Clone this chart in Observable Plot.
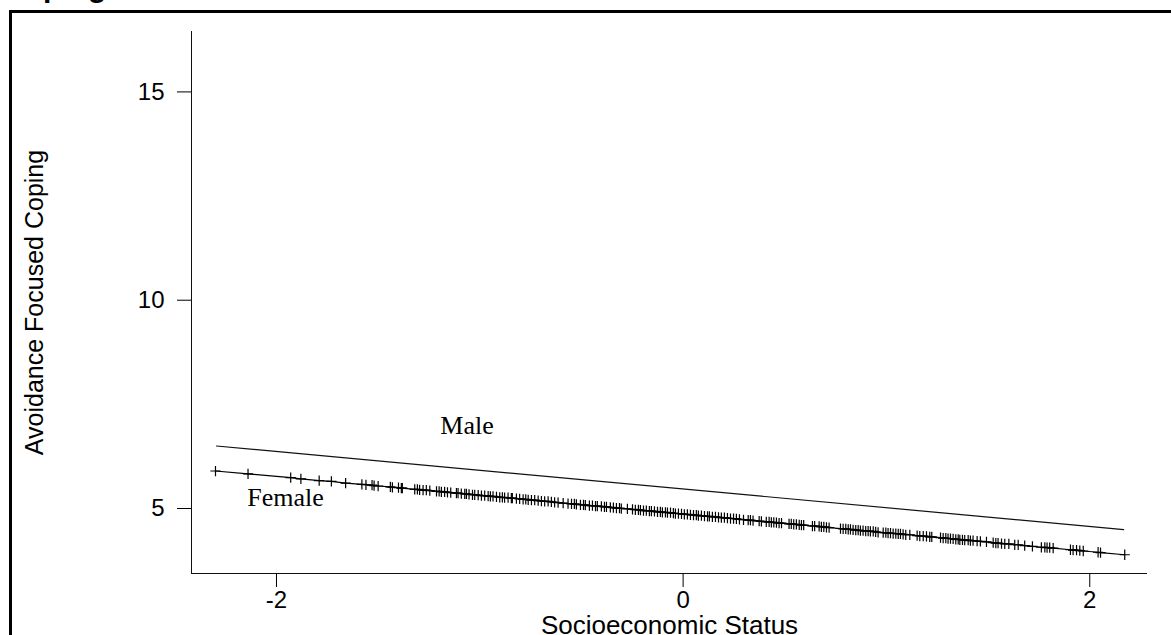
<!DOCTYPE html>
<html>
<head>
<meta charset="utf-8">
<script src="https://cdn.jsdelivr.net/npm/d3@7"></script>
<script src="https://cdn.jsdelivr.net/npm/@observablehq/plot@0.6"></script>
<style>
  html, body { margin: 0; padding: 0; background: #fff; overflow: hidden; }
  #wrap { position: relative; width: 1171px; height: 635px; overflow: hidden; }
  #frame { position: absolute; left: 9px; top: 10px; width: 1300px; height: 800px;
           border-left: 3px solid #000; border-top: 3px solid #000; box-sizing: border-box; }
  #title { position: absolute; left: 3px; top: -28px; font: bold 30px "Liberation Sans", Arial, sans-serif;
           line-height: 30px; color: #000; white-space: nowrap; }
  #chart { position: absolute; left: 0; top: 0; }
</style>
</head>
<body>
<div id="wrap">
  <div id="title"></div>
  <div id="frame"></div>
  <div id="chart"></div>
</div>
<script>
const titleText = "Coping";
const xLabel = "Socioeconomic Status";
const yLabel = "Avoidance Focused Coping";
const xTicks = [-2, 0, 2];
const xTickLabels = ["-2", "0", "2"];
const yTicks = [5, 10, 15];
const xDomain = [-2.418, 2.284];
const yDomain = [3.44, 16.45];

const maleSES = [-2.295, 2.167];
const maleAFC = [6.50, 4.495];

const femaleSES = [
  -2.30, -2.14, -1.93, -1.88, -1.79, -1.73, -1.66, -1.58, -1.56, -1.53, -1.52, -1.50, -1.44, -1.43, -1.40,
  -1.386, -1.381, -1.320, -1.307, -1.296, -1.279, -1.263, -1.246, -1.213, -1.200, -1.189, -1.173, -1.159,
  -1.143, -1.115, -1.107, -1.091, -1.074, -1.066, -1.053, -1.036, -1.025, -1.008, -0.992, -0.976, -0.959,
  -0.948, -0.935, -0.918, -0.902, -0.889, -0.878, -0.861, -0.845, -0.840, -0.820, -0.804, -0.787, -0.774,
  -0.762, -0.746, -0.730, -0.713, -0.697, -0.681, -0.664, -0.648, -0.632, -0.615, -0.590, -0.566,
  -0.549, -0.535, -0.525, -0.505, -0.490, -0.481, -0.461, -0.446, -0.431, -0.422, -0.402, -0.387, -0.377,
  -0.358, -0.343, -0.328, -0.313, -0.304, -0.274, -0.249, -0.235, -0.220, -0.210, -0.195, -0.181, -0.166,
  -0.156, -0.141, -0.126, -0.112, -0.102, -0.087, -0.077, -0.062, -0.048, -0.038, -0.023, -0.008,
  0.006, 0.021, 0.036, 0.051, 0.065, 0.075, 0.090, 0.105, 0.120, 0.129, 0.144, 0.159, 0.174, 0.188,
  0.203, 0.218, 0.233, 0.248, 0.262, 0.277, 0.297,
  0.320, 0.331, 0.344, 0.374, 0.385, 0.409, 0.423, 0.434, 0.446, 0.459, 0.472, 0.484, 0.521, 0.532,
  0.544, 0.557, 0.571, 0.582, 0.593, 0.636, 0.647, 0.669, 0.680, 0.692, 0.705, 0.718, 0.774, 0.787,
  0.800, 0.812, 0.823, 0.836, 0.849, 0.861, 0.872, 0.885, 0.898, 0.910, 0.921, 0.935, 0.947, 0.959,
  0.984, 0.997, 1.008, 1.020, 1.033, 1.046, 1.058, 1.069, 1.082, 1.095, 1.115, 1.151, 1.164, 1.181,
  1.197, 1.213,
  1.223, 1.266, 1.279, 1.292, 1.303, 1.315, 1.328, 1.341, 1.353, 1.361, 1.374, 1.385, 1.402, 1.413,
  1.426, 1.446, 1.462, 1.492, 1.525, 1.538, 1.549, 1.566, 1.582, 1.602, 1.631, 1.648, 1.680, 1.718,
  1.762, 1.779, 1.790, 1.803, 1.820, 1.905, 1.918, 1.935, 1.951, 1.968, 2.041, 2.053, 2.172
];
const femaleAFC = [
  5.90, 5.83, 5.74, 5.71, 5.67, 5.65, 5.61, 5.58, 5.57, 5.56, 5.55, 5.54, 5.52, 5.51, 5.50,
  5.49, 5.49, 5.46, 5.46, 5.45, 5.44, 5.44, 5.43, 5.41, 5.41, 5.40, 5.40, 5.39,
  5.38, 5.37, 5.37, 5.36, 5.35, 5.35, 5.34, 5.33, 5.33, 5.32, 5.31, 5.31, 5.30,
  5.29, 5.29, 5.28, 5.27, 5.27, 5.26, 5.26, 5.25, 5.25, 5.24, 5.23, 5.22, 5.22,
  5.21, 5.20, 5.20, 5.19, 5.18, 5.17, 5.17, 5.16, 5.15, 5.14, 5.13, 5.12,
  5.11, 5.11, 5.10, 5.09, 5.09, 5.08, 5.07, 5.07, 5.06, 5.06, 5.05, 5.04, 5.04,
  5.03, 5.02, 5.01, 5.01, 5.00, 4.99, 4.98, 4.97, 4.97, 4.96, 4.95, 4.95, 4.94,
  4.94, 4.93, 4.92, 4.92, 4.91, 4.91, 4.90, 4.90, 4.89, 4.88, 4.88, 4.87,
  4.86, 4.86, 4.85, 4.84, 4.84, 4.83, 4.83, 4.82, 4.81, 4.81, 4.80, 4.80, 4.79, 4.78,
  4.78, 4.77, 4.76, 4.76, 4.75, 4.74, 4.73,
  4.72, 4.72, 4.71, 4.70, 4.69, 4.68, 4.68, 4.67, 4.67, 4.66, 4.65, 4.65, 4.63, 4.63,
  4.62, 4.62, 4.61, 4.60, 4.60, 4.58, 4.58, 4.57, 4.56, 4.56, 4.55, 4.54, 4.52, 4.51,
  4.51, 4.50, 4.50, 4.49, 4.48, 4.48, 4.47, 4.47, 4.46, 4.46, 4.45, 4.45, 4.44, 4.43,
  4.42, 4.42, 4.41, 4.41, 4.40, 4.40, 4.39, 4.39, 4.38, 4.37, 4.37, 4.35, 4.34, 4.34,
  4.33, 4.32,
  4.32, 4.30, 4.29, 4.29, 4.28, 4.28, 4.27, 4.26, 4.26, 4.25, 4.25, 4.24, 4.24, 4.23,
  4.23, 4.22, 4.21, 4.20, 4.18, 4.17, 4.17, 4.16, 4.15, 4.15, 4.13, 4.13, 4.11, 4.09,
  4.07, 4.07, 4.06, 4.06, 4.05, 4.01, 4.00, 4.00, 3.99, 3.98, 3.95, 3.94, 3.89
];

const seriesLabels = ["Male", "Female"];
const labelSES = [-1.194, -2.144];
const labelAFC = [6.80, 5.05];

document.getElementById("title").textContent = titleText;

const sans = "'Liberation Sans', Arial, sans-serif";
const serif = "'Liberation Serif', 'Times New Roman', serif";
const idxF = d3.range(femaleSES.length);
const idxM = d3.range(maleSES.length);
const idxL = d3.range(seriesLabels.length);

const chart = Plot.plot({
  width: 1171,
  height: 635,
  marginLeft: 191,
  marginRight: 24,
  marginTop: 31,
  marginBottom: 62,
  x: {domain: xDomain},
  y: {domain: yDomain},
  style: {fontFamily: sans, fontSize: "24px", color: "#000", background: "transparent", overflow: "visible"},
  marks: [
    Plot.ruleX([xDomain[0]], {stroke: "#111", strokeWidth: 1}),
    Plot.ruleY([yDomain[0]], {stroke: "#111", strokeWidth: 1}),
    Plot.axisX(xTicks, {tickSize: 14, tickPadding: 3, fontSize: 24, label: null,
      tickFormat: d => xTickLabels[xTicks.indexOf(d)]}),
    Plot.axisY(yTicks, {tickSize: 14, tickPadding: 13, fontSize: 24, label: null}),
    Plot.line(idxM, {x: i => maleSES[i], y: i => maleAFC[i], stroke: "#111", strokeWidth: 1.2}),
    Plot.line(idxF, {x: i => femaleSES[i], y: i => femaleAFC[i], stroke: "#000", strokeWidth: 1.2}),
    Plot.dot(idxF, {x: i => femaleSES[i], y: i => femaleAFC[i], symbol: "plus", r: 3.4, stroke: "#000", strokeWidth: 1.2}),
    Plot.text(idxL, {x: i => labelSES[i], y: i => labelAFC[i], text: i => seriesLabels[i],
      textAnchor: "start", lineAnchor: "bottom", fontFamily: serif, fontSize: 26}),
    Plot.text([xLabel], {frameAnchor: "bottom", dy: 60, textAnchor: "middle", lineAnchor: "bottom", fontSize: 26, text: d => d}),
    Plot.text([yLabel], {frameAnchor: "left", dx: -149, rotate: -90, textAnchor: "middle", lineAnchor: "bottom", fontSize: 25, text: d => d})
  ]
});
document.getElementById("chart").appendChild(chart);
</script>
</body>
</html>
